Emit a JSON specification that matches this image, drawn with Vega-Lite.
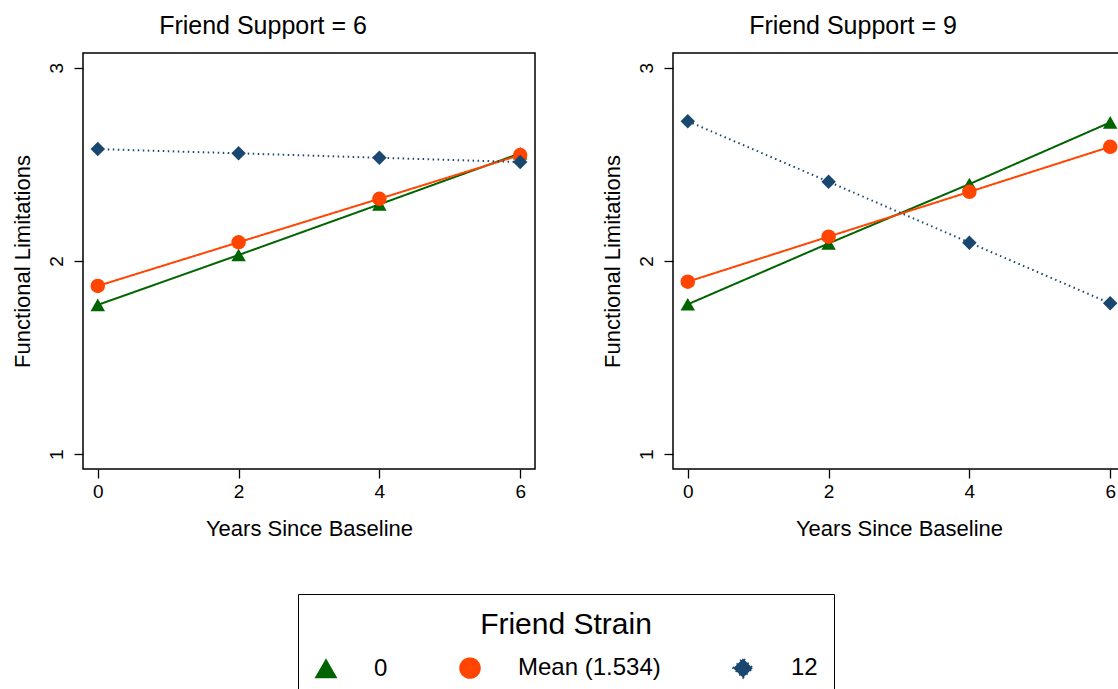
{
  "$schema": "https://vega.github.io/schema/vega-lite/v6.json",
  "padding": {"left": 10, "top": 13, "right": 0, "bottom": 40},
  "background": "white",
  "config": {
    "font": "Liberation Sans",
    "view": {"stroke": "black", "strokeWidth": 1.5},
    "axis": {
      "domain": false, "grid": false,
      "tickColor": "black", "tickWidth": 1.3, "tickSize": 9,
      "labelColor": "black", "labelFontSize": 19, "labelFont": "Liberation Sans",
      "titleColor": "black", "titleFontSize": 22, "titleFontWeight": "normal", "titleFont": "Liberation Sans"
    },
    "legend": {
      "labelFont": "Liberation Sans", "titleFont": "Liberation Sans",
      "orient": "none", "legendX": 215, "legendY": 541, "direction": "horizontal",
      "titleFontSize": 30, "titleFontWeight": "normal", "titleColor": "black", "titleAnchor": "middle", "titlePadding": 16,
      "labelFontSize": 24, "labelColor": "black", "labelOffset": 36, "columnPadding": 68,
      "symbolSize": 380, "symbolStrokeWidth": 0, "symbolOpacity": 1,
      "strokeColor": "black", "padding": 16
    }
  },
  "data": {
    "values": [
      {"support": "6", "strain": "0", "year": 0, "fl": 1.773},
      {"support": "6", "strain": "0", "year": 2, "fl": 2.031},
      {"support": "6", "strain": "0", "year": 4, "fl": 2.293},
      {"support": "6", "strain": "0", "year": 6, "fl": 2.557},
      {"support": "6", "strain": "Mean (1.534)", "year": 0, "fl": 1.871},
      {"support": "6", "strain": "Mean (1.534)", "year": 2, "fl": 2.097},
      {"support": "6", "strain": "Mean (1.534)", "year": 4, "fl": 2.322},
      {"support": "6", "strain": "Mean (1.534)", "year": 6, "fl": 2.548},
      {"support": "6", "strain": "12", "year": 0, "fl": 2.579},
      {"support": "6", "strain": "12", "year": 2, "fl": 2.557},
      {"support": "6", "strain": "12", "year": 4, "fl": 2.534},
      {"support": "6", "strain": "12", "year": 6, "fl": 2.512},
      {"support": "9", "strain": "0", "year": 0, "fl": 1.776},
      {"support": "9", "strain": "0", "year": 2, "fl": 2.091},
      {"support": "9", "strain": "0", "year": 4, "fl": 2.398},
      {"support": "9", "strain": "0", "year": 6, "fl": 2.717},
      {"support": "9", "strain": "Mean (1.534)", "year": 0, "fl": 1.893},
      {"support": "9", "strain": "Mean (1.534)", "year": 2, "fl": 2.126},
      {"support": "9", "strain": "Mean (1.534)", "year": 4, "fl": 2.358},
      {"support": "9", "strain": "Mean (1.534)", "year": 6, "fl": 2.591},
      {"support": "9", "strain": "12", "year": 0, "fl": 2.723},
      {"support": "9", "strain": "12", "year": 2, "fl": 2.410},
      {"support": "9", "strain": "12", "year": 4, "fl": 2.095},
      {"support": "9", "strain": "12", "year": 6, "fl": 1.781}
    ]
  },
  "spacing": 64,
  "hconcat": [
    {
      "width": 452, "height": 416,
      "title": {"text": "Friend Support = 6", "fontSize": 25, "fontWeight": "normal", "color": "black", "anchor": "middle", "frame": "bounds", "offset": 14, "dx": -10},
      "transform": [{"filter": "datum.support === '6'"}],
      "encoding": {
        "x": {"field": "year", "type": "quantitative", "title": "Years Since Baseline",
              "scale": {"domain": [-0.21, 6.21], "nice": false, "zero": false},
              "axis": {"values": [0, 2, 4, 6], "labelPadding": 4, "titlePadding": 17}},
        "y": {"field": "fl", "type": "quantitative", "title": "Functional Limitations",
              "scale": {"domain": [0.924, 3.076], "nice": false, "zero": false},
              "axis": {"values": [1, 2, 3], "labelAngle": -90, "labelAlign": "center", "labelBaseline": "alphabetic", "labelPadding": 12, "titlePadding": 13}},
        "color": {"field": "strain", "type": "nominal",
                  "scale": {"domain": ["0", "Mean (1.534)", "12"], "range": ["#006400", "#ff4500", "#1a476f"]},
                  "legend": {"title": "Friend Strain"}}
      },
      "layer": [
        {
          "mark": {"type": "line", "strokeWidth": 2},
          "encoding": {
            "strokeDash": {"field": "strain", "type": "nominal", "legend": null,
                           "scale": {"domain": ["0", "Mean (1.534)", "12"], "range": [[1, 0], [1, 0], [1.5, 3.5]]}},
            "strokeWidth": {"field": "strain", "type": "nominal", "legend": null,
                            "scale": {"domain": ["0", "Mean (1.534)", "12"], "range": [2, 2, 1.5]}}
          }
        },
        {
          "mark": {"type": "point", "filled": true, "opacity": 1, "size": 210},
          "encoding": {
            "shape": {"field": "strain", "type": "nominal",
                      "scale": {"domain": ["0", "Mean (1.534)", "12"], "range": ["triangle-up", "circle", "diamond"]}}
          }
        }
      ]
    },
    {
      "width": 452, "height": 416,
      "title": {"text": "Friend Support = 9", "fontSize": 25, "fontWeight": "normal", "color": "black", "anchor": "middle", "frame": "bounds", "offset": 14, "dx": -10},
      "transform": [{"filter": "datum.support === '9'"}],
      "encoding": {
        "x": {"field": "year", "type": "quantitative", "title": "Years Since Baseline",
              "scale": {"domain": [-0.21, 6.21], "nice": false, "zero": false},
              "axis": {"values": [0, 2, 4, 6], "labelPadding": 4, "titlePadding": 17}},
        "y": {"field": "fl", "type": "quantitative", "title": "Functional Limitations",
              "scale": {"domain": [0.924, 3.076], "nice": false, "zero": false},
              "axis": {"values": [1, 2, 3], "labelAngle": -90, "labelAlign": "center", "labelBaseline": "alphabetic", "labelPadding": 12, "titlePadding": 13}},
        "color": {"field": "strain", "type": "nominal",
                  "scale": {"domain": ["0", "Mean (1.534)", "12"], "range": ["#006400", "#ff4500", "#1a476f"]},
                  "legend": {"title": "Friend Strain"}}
      },
      "layer": [
        {
          "mark": {"type": "line", "strokeWidth": 2},
          "encoding": {
            "strokeDash": {"field": "strain", "type": "nominal", "legend": null,
                           "scale": {"domain": ["0", "Mean (1.534)", "12"], "range": [[1, 0], [1, 0], [1.5, 3.5]]}},
            "strokeWidth": {"field": "strain", "type": "nominal", "legend": null,
                            "scale": {"domain": ["0", "Mean (1.534)", "12"], "range": [2, 2, 1.5]}}
          }
        },
        {
          "mark": {"type": "point", "filled": true, "opacity": 1, "size": 210},
          "encoding": {
            "shape": {"field": "strain", "type": "nominal",
                      "scale": {"domain": ["0", "Mean (1.534)", "12"], "range": ["triangle-up", "circle", "diamond"]}}
          }
        }
      ]
    }
  ]
}
